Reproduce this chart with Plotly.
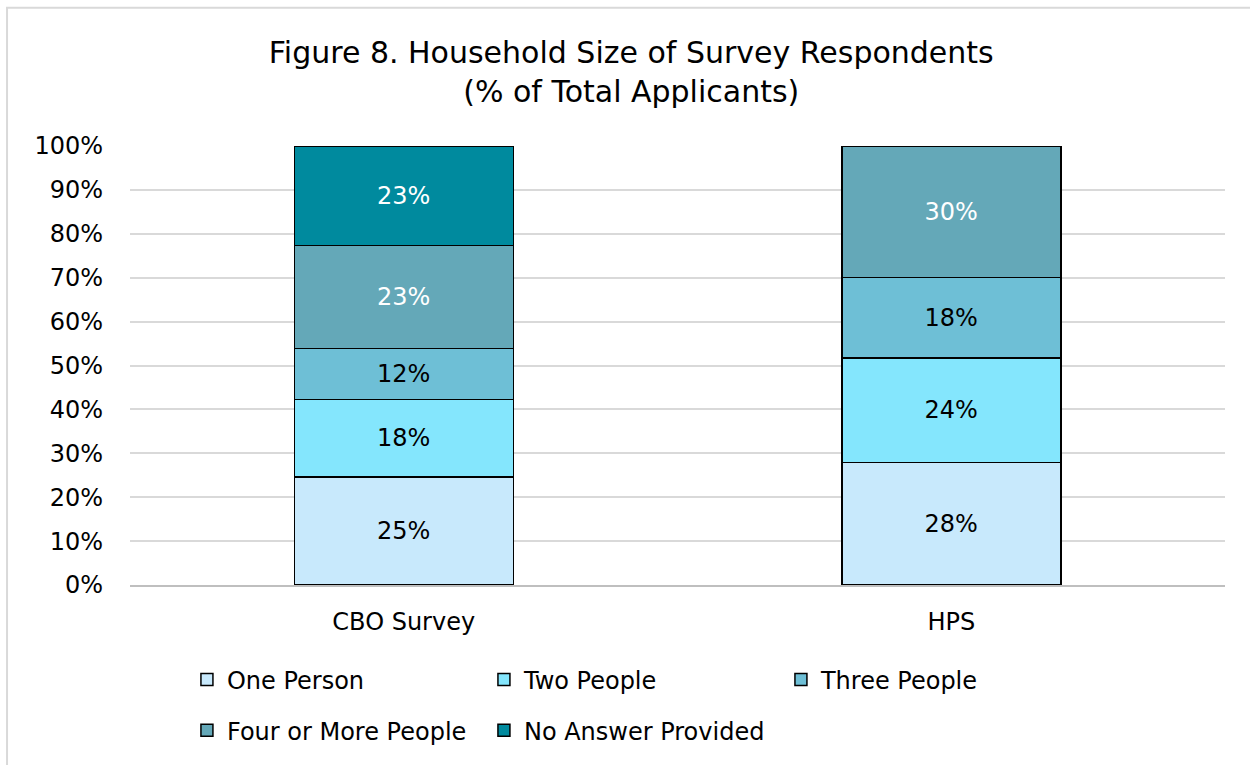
import plotly.graph_objects as go

categories = ["CBO Survey", "HPS"]
series_names = ["One Person", "Two People", "Three People", "Four or More People", "No Answer Provided"]
one_person = [24.6, 27.9]
two_people = [17.6, 23.8]
three_people = [11.7, 18.4]
four_more = [23.4, 29.9]
no_answer = [22.7, 0.0]
tick_vals = [0, 10, 20, 30, 40, 50, 60, 70, 80, 90, 100]
tick_text = [f"{v}%" for v in tick_vals]

series_values = [one_person, two_people, three_people, four_more, no_answer]
colors = ["#C8E9FC", "#84E6FD", "#6EBFD6", "#64A8B8", "#008A9E"]
text_colors = ["black", "black", "black", "white", "white"]
legend_ids = ["legend", "legend", "legend", "legend2", "legend2"]

FONT = "'DejaVu Sans', sans-serif"

fig = go.Figure()
for name, vals, col, tcol, lg in zip(series_names, series_values, colors, text_colors, legend_ids):
    fig.add_trace(go.Bar(
        x=categories, y=vals, name=name, legend=lg,
        marker=dict(color=col, line=dict(color="black", width=1.5)),
        text=[f"{round(v):.0f}%" if v > 0 else "" for v in vals],
        textposition="inside", insidetextanchor="middle",
        textfont=dict(color=tcol, size=24, family=FONT),
        textangle=0,
        constraintext="none",
        hoverinfo="skip",
    ))

legend_common = dict(
    orientation="h", x=0.052, xanchor="left", yanchor="middle",
    traceorder="normal", entrywidth=252, entrywidthmode="pixels",
    font=dict(size=24, family=FONT), itemwidth=30, tracegroupgap=0,
    bgcolor="rgba(0,0,0,0)",
)

fig.update_layout(
    barmode="stack",
    bargap=0.6,
    width=1250, height=765,
    margin=dict(l=130, r=25, t=146, b=178),
    paper_bgcolor="white", plot_bgcolor="white",
    font=dict(family=FONT, size=24, color="black"),
    title=dict(
        text="Figure 8. Household Size of Survey Respondents<br>(% of Total Applicants)",
        x=0.505, xanchor="center", y=0.918, yanchor="middle", yref="container",
        font=dict(size=30, family=FONT, color="black"),
    ),
    xaxis=dict(
        showgrid=False, showline=True, linecolor="#BFBFBF", linewidth=1.5,
        tickfont=dict(size=24), ticks="", ticklabelstandoff=14,
    ),
    yaxis=dict(
        range=[0, 100], tickvals=tick_vals, ticktext=tick_text,
        showgrid=True, gridcolor="#D9D9D9", gridwidth=1.5,
        zeroline=False, showline=False, ticks="",
        tickfont=dict(size=24), ticklabelstandoff=26,
    ),
    legend=dict(legend_common, y=-0.216),
    legend2=dict(legend_common, y=-0.332),
    showlegend=True,
    shapes=[dict(type="rect", xref="paper", yref="paper",
                 x0=-0.1123, x1=1.03, y0=-0.42, y1=1.315,
                 line=dict(color="#D9D9D9", width=2), fillcolor="rgba(0,0,0,0)", layer="below")],
)

fig.write_html("out.html")
